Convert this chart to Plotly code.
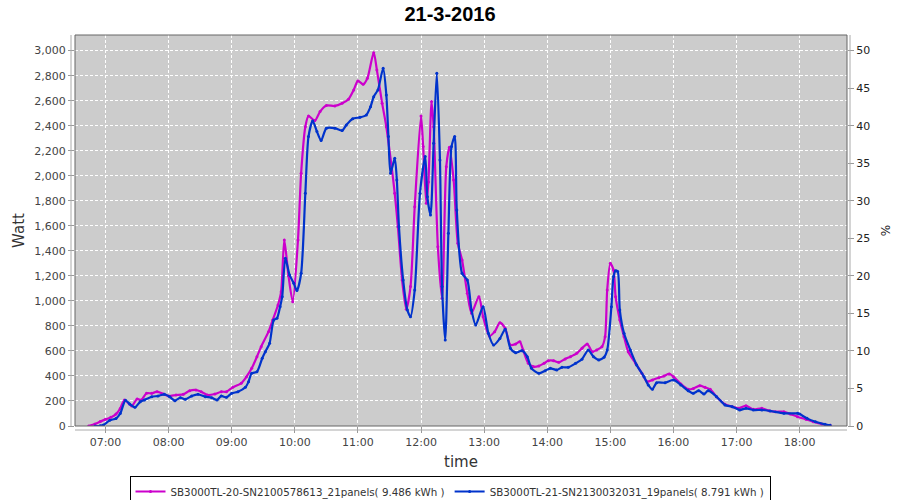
import plotly.graph_objects as go

DAY = "2016-03-21"

# Series 1: SB3000TL-20 (magenta)
t1 = ["06:44","06:50","06:55","07:00","07:05","07:10","07:14","07:18","07:25","07:30",
      "07:34","07:39","07:44","07:49","07:55","08:00","08:07","08:14","08:20","08:26",
      "08:31","08:37","08:44","08:50","08:55","09:01","09:09","09:14","09:19","09:24",
      "09:28","09:35","09:39","09:44","09:47","09:50","09:54","09:58","10:03","10:06",
      "10:10","10:13","10:19","10:24","10:30","10:38","10:45","10:51","10:56","11:00",
      "11:05","11:09","11:15","11:18","11:23","11:27","11:32","11:35","11:38","11:42",
      "11:46","11:50","11:54","12:00","12:02","12:05","12:07","12:10","12:12","12:16",
      "12:20","12:24","12:27","12:31","12:35","12:39","12:44","12:48","12:55","12:59",
      "13:05","13:10","13:15","13:20","13:25","13:30","13:34","13:37","13:42","13:47",
      "13:52","13:57","14:01","14:06","14:11","14:17","14:22","14:28","14:33","14:38",
      "14:43","14:47","14:52","14:55","14:57","15:00","15:03","15:05","15:09","15:13",
      "15:17","15:24","15:30","15:35","15:40","15:46","15:51","15:56","16:00","16:07",
      "16:14","16:19","16:25","16:30","16:35","16:41","16:49","16:56","17:02","17:09",
      "17:16","17:24","17:31","17:37","17:45","17:51","17:58","18:06","18:13","18:21",
      "18:29"]
w1 = [0,16,35,53,69,95,140,208,160,216,
      208,261,261,274,256,240,248,253,282,288,
      274,248,256,274,274,309,341,394,461,554,
      634,754,847,967,1073,1487,1200,994,1487,2020,
      2392,2478,2441,2513,2561,2558,2580,2612,2686,2758,
      2731,2779,2984,2846,2580,2392,2073,1860,1593,1167,
      933,1114,1753,2478,2233,1780,1950,2593,2392,1433,
      1021,2073,2228,1966,1460,1327,1061,901,1034,874,
      719,754,826,781,647,655,674,607,501,474,
      480,501,522,522,509,536,554,581,621,655,
      594,607,634,714,1087,1300,1247,1034,847,714,
      594,501,421,354,368,386,400,416,394,336,
      293,300,322,309,293,234,173,154,141,162,
      133,141,122,114,114,96,74,53,34,16,
      5]

# Series 2: SB3000TL-21 (blue)
t2 = ["06:50","06:55","06:58","07:04","07:10","07:14","07:19","07:23","07:28","07:33",
      "07:37","07:44","07:50","07:56","08:01","08:06","08:11","08:16","08:22","08:28",
      "08:35","08:41","08:46","08:50","08:55","09:00","09:06","09:13","09:16","09:19",
      "09:24","09:29","09:32","09:36","09:40","09:43","09:46","09:48","09:51","09:55",
      "09:59","10:02","10:06","10:10","10:13","10:17","10:21","10:25","10:30","10:38",
      "10:45","10:49","10:55","11:02","11:08","11:12","11:15","11:19","11:24","11:27",
      "11:29","11:31","11:35","11:37","11:39","11:43","11:47","11:50","11:54","11:59",
      "12:04","12:06","12:09","12:12","12:15","12:18","12:20","12:23","12:26","12:29",
      "12:32","12:34","12:39","12:44","12:48","12:52","12:59","13:04","13:09","13:15",
      "13:20","13:25","13:30","13:36","13:41","13:45","13:52","13:58","14:03","14:09",
      "14:14","14:20","14:27","14:33","14:39","14:44","14:49","14:54","14:57","15:01",
      "15:03","15:05","15:07","15:09","15:13","15:19","15:25","15:32","15:36","15:40",
      "15:44","15:52","16:00","16:07","16:14","16:19","16:24","16:29","16:33","16:41",
      "16:49","16:56","17:03","17:09","17:16","17:24","17:32","17:45","17:58","18:00",
      "18:07","18:15","18:24","18:29"]
w2 = [0,2,8,45,60,100,205,176,149,194,
      208,234,240,253,234,202,226,213,240,253,
      234,226,208,240,229,261,274,309,354,421,
      434,541,594,661,847,861,954,1034,1340,1207,
      1140,1082,1220,1860,2313,2438,2353,2281,2380,2380,
      2361,2406,2456,2467,2486,2552,2632,2686,2859,2646,
      2313,2020,2140,1966,1593,1167,927,874,1087,1860,
      2153,1833,1687,2260,2820,2126,1114,687,1540,2233,
      2313,1727,1220,1167,927,807,954,741,647,700,
      773,621,586,602,554,461,421,442,461,448,
      469,469,501,533,607,554,528,549,607,954,
      1194,1241,1234,927,741,607,488,394,328,293,
      346,346,368,328,282,261,282,256,282,234,
      168,154,128,141,128,128,120,101,101,95,
      61,34,13,5]

name1 = "SB3000TL-20-SN2100578613_21panels( 9.486 kWh )"
name2 = "SB3000TL-21-SN2130032031_19panels( 8.791 kWh )"
color1 = "#cc00cc"
color2 = "#0033cc"

x_ticks = ["07:00","08:00","09:00","10:00","11:00","12:00","13:00","14:00","15:00","16:00","17:00","18:00"]

def ts(lst):
    return [f"{DAY} {v}" for v in lst]

fig = go.Figure()
fig.add_trace(go.Scatter(x=ts(t1), y=w1, name=name1, mode="lines+markers",
                         line=dict(color=color1, width=2.2, shape="spline", smoothing=0.7),
                         marker=dict(size=3, color=color1)))
fig.add_trace(go.Scatter(x=ts(t2), y=w2, name=name2, mode="lines+markers",
                         line=dict(color=color2, width=2.2, shape="spline", smoothing=0.7),
                         marker=dict(size=3, color=color2)))
# invisible trace to anchor right axis
fig.add_trace(go.Scatter(x=[f"{DAY} 12:00"], y=[0], yaxis="y2", mode="markers",
                         marker=dict(opacity=0), showlegend=False, hoverinfo="skip"))

tickfont = dict(family="DejaVu Sans", size=11, color="#444444")

fig.update_layout(
    width=900, height=500,
    margin=dict(l=75, r=53, t=35, b=74, autoexpand=False),
    paper_bgcolor="white",
    plot_bgcolor="#cccccc",
    title=dict(text="<b>21-3-2016</b>", x=0.5, xref="container", xanchor="center",
               y=1 - 14/500, yref="container", yanchor="middle", automargin=False,
               font=dict(family="Liberation Sans", size=20, color="black")),
    xaxis=dict(
        type="date", range=[f"{DAY} 06:31", f"{DAY} 18:45"],
        tickvals=ts(x_ticks), ticktext=x_ticks, automargin=False,
        showgrid=True, gridcolor="white", griddash="3px,2px", gridwidth=1,
        zeroline=False, showline=False,
        ticks="outside", ticklen=6, tickcolor="#999999",
        tickfont=tickfont,
        title=dict(text="time", font=dict(family="DejaVu Sans", size=15, color="#333333"), standoff=8),
    ),
    yaxis=dict(
        range=[0, 3125], tickvals=list(range(0, 3001, 200)), tickformat=",d", automargin=False,
        showgrid=True, gridcolor="white", griddash="3px,2px", gridwidth=1,
        zeroline=False, showline=False,
        ticks="outside", ticklen=6, tickcolor="#999999",
        tickfont=tickfont,
        title=dict(text="Watt", font=dict(family="DejaVu Sans", size=15, color="#333333"), standoff=6),
    ),
    yaxis2=dict(
        overlaying="y", side="right", range=[0, 52.08], tickvals=list(range(0, 51, 5)),
        showgrid=False, zeroline=False, showline=False, automargin=False,
        ticks="outside", ticklen=6, tickcolor="#999999",
        tickfont=dict(family="DejaVu Sans", size=11, color="#222222"),
        title=dict(text="%", font=dict(family="DejaVu Sans", size=12, color="#222222"), standoff=12),
    ),
    legend=dict(orientation="h", xref="container", x=0.5, xanchor="center",
                yref="container", y=1 - 476/500, yanchor="top",
                bordercolor="black", borderwidth=1, bgcolor="white",
                font=dict(family="DejaVu Sans", size=10.3, color="#333333"),
                itemwidth=30, tracegroupgap=0),
    showlegend=True,
    shapes=[
        dict(type="rect", xref="paper", yref="paper", x0=0, x1=1, y0=0, y1=1,
             line=dict(color="#666666", width=1), layer="above"),
        dict(type="line", xref="paper", yref="paper", x0=-4/772, x1=-4/772, y0=0, y1=1,
             line=dict(color="#aaaaaa", width=1)),
        dict(type="line", xref="paper", yref="paper", x0=0, x1=1, y0=-4/391, y1=-4/391,
             line=dict(color="#aaaaaa", width=1)),
        dict(type="line", xref="paper", yref="paper", x0=1+3/772, x1=1+3/772, y0=0, y1=1,
             line=dict(color="#aaaaaa", width=1)),
    ],
)

fig.write_html("out.html", config={"displayModeBar": False},
               post_script="document.body.style.margin='0';document.body.style.overflow='hidden';")
